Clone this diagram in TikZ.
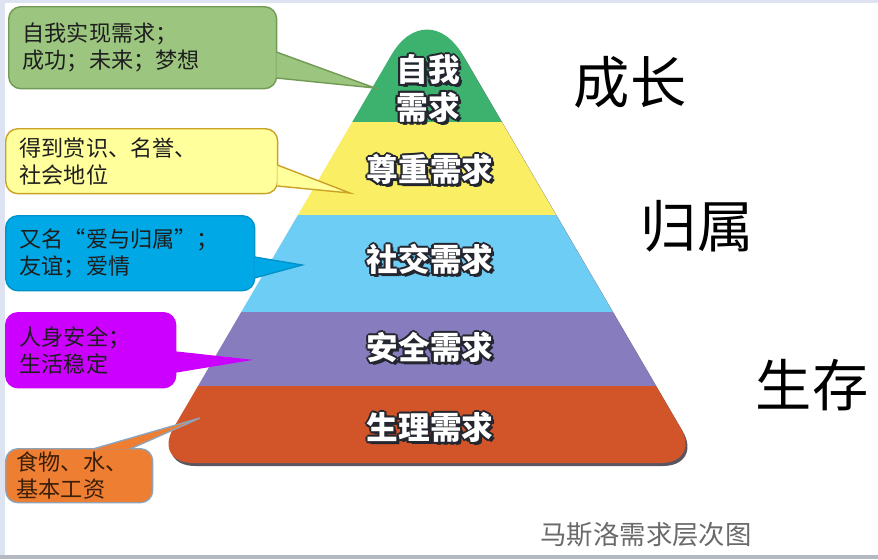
\documentclass[tikz,border=0pt]{standalone}
\usepackage{fontspec}
\setmainfont{Noto Sans CJK SC}
\newfontfamily\cjk{Noto Sans CJK SC}
\usetikzlibrary{calc}
\definecolor{needFrame}{HTML}{DDE3F1}
\definecolor{needEdge}{HTML}{B4B8C0}
\definecolor{needShadow}{HTML}{5A5560}
\definecolor{needRim}{HTML}{24262F}
\definecolor{needInk}{HTML}{1E1E1E}
\definecolor{needMuted}{HTML}{6A6A6A}
\definecolor{needGreen}{HTML}{3CB26E}
\definecolor{needYellow}{HTML}{FAEE64}
\definecolor{needBlue}{HTML}{6ECDF5}
\definecolor{needPurple}{HTML}{877DBE}
\definecolor{needRed}{HTML}{D2552A}
\definecolor{calGreenFill}{HTML}{9CC680}
\definecolor{calGreenLine}{HTML}{719A55}
\definecolor{calYellowFill}{HTML}{FFFF9C}
\definecolor{calYellowLine}{HTML}{C9A227}
\definecolor{calBlueFill}{HTML}{00A8E6}
\definecolor{calBlueLine}{HTML}{0092CA}
\definecolor{calPinkFill}{HTML}{CC00FF}
\definecolor{calOrangeFill}{HTML}{EE7E32}
\definecolor{calOrangeLine}{HTML}{8FA3B8}
\definecolor{calOrangeInk}{HTML}{3B1E08}
% outlined white lettering on the pyramid bands
\newcommand\rimcopy[3]{\rlap{\hspace*{#1}\raisebox{#2}{\color{needRim}#3}}}
\newcommand\rimtext[1]{%
  \rimcopy{1.8pt}{-1.8pt}{#1}%
  \rimcopy{-1.2pt}{0pt}{#1}\rimcopy{1.2pt}{0pt}{#1}%
  \rimcopy{0pt}{1.2pt}{#1}\rimcopy{0pt}{-1.2pt}{#1}%
  \rimcopy{-.85pt}{.85pt}{#1}\rimcopy{.85pt}{.85pt}{#1}%
  \rimcopy{-.85pt}{-.85pt}{#1}\rimcopy{.85pt}{-.85pt}{#1}%
  {\color{white}#1}}
\tikzset{
  need/callout/.style={line width=0.8pt, rounded corners=7pt, anchor=north west,
    align=left, text=needInk, inner xsep=0.28cm, inner ysep=0pt,
    font=\cjk\fontsize{12.6pt}{15.5pt}\selectfont},
  need/pointer/.style={line width=0.8pt, line join=miter},
  need/band/.style={align=center, inner sep=0pt,
    font=\cjk\bfseries\fontsize{18pt}{16pt}\selectfont},
  need/side/.style={inner sep=0pt, text=black,
    font=\cjk\fontsize{32pt}{34pt}\selectfont},
  need/caption/.style={inner sep=0pt, text=needMuted,
    font=\cjk\fontsize{15pt}{17pt}\selectfont},
}

\begin{document}
\begin{tikzpicture}[x=0.02cm, y=-0.02cm]
\useasboundingbox (0,0) rectangle (878,559);
\fill[needFrame] (0,0) rectangle (878,559);
\fill[white] (5,3) rectangle (878,555);
\fill[needEdge] (0,555) rectangle (878,559);

% pyramid
\fill[needShadow, shift={(2,3)}] (427,463) [rounded corners=23pt] -- (153,463)
  [rounded corners=40pt] -- (427,-6) [rounded corners=23pt] -- (701,463) -- cycle;
\begin{scope}
  \clip (427,463) [rounded corners=23pt] -- (153,463)
    [rounded corners=40pt] -- (427,-6) [rounded corners=23pt] -- (701,463) -- cycle;
  \fill[needGreen] (140,-10) rectangle (720,122);
  \fill[needYellow] (140,122) rectangle (720,215);
  \fill[needBlue] (140,215) rectangle (720,312);
  \fill[needPurple] (140,312) rectangle (720,386);
  \fill[needRed] (140,386) rectangle (720,470);
\end{scope}

\node[need/band] (selfLabel) at (428,89) {\rimtext{自我}\\\rimtext{需求}};
\node[need/band] (esteemLabel) at (430,170) {\rimtext{尊重需求}};
\node[need/band] (loveLabel) at (430,260) {\rimtext{社交需求}};
\node[need/band] (safetyLabel) at (430,348) {\rimtext{安全需求}};
\node[need/band] (bodyLabel) at (430,428) {\rimtext{生理需求}};

% callouts
\node[need/callout, fill=calGreenFill, draw=calGreenLine,
  minimum width=5.36cm, minimum height=1.64cm, text width=4.8cm] (selfBox) at (8,6)
  {自我实现需求；\\成功；未来；梦想};
\coordinate (selfTip) at (375,88);
\path[need/pointer, fill=calGreenFill, draw=calGreenLine]
  ($(selfBox.north east)+(-1,46)$) -- (selfTip) -- ($(selfBox.north east)+(-1,72)$);

\node[need/callout, fill=calYellowFill, draw=calYellowLine,
  minimum width=5.44cm, minimum height=1.3cm, text width=4.88cm] (esteemBox) at (5,128)
  {得到赏识、名誉、\\社会地位};
\coordinate (esteemTip) at (350,193);
\path[need/pointer, fill=calYellowFill, draw=calYellowLine]
  ($(esteemBox.north east)+(-1,37)$) -- (esteemTip) -- ($(esteemBox.north east)+(-1,58)$);

\node[need/callout, fill=calBlueFill, draw=calBlueLine,
  minimum width=4.98cm, minimum height=1.5cm, text width=4.42cm] (loveBox) at (5,215)
  {又名“爱与归属”；\\友谊；爱情};
\coordinate (loveTip) at (302,265);
\path[need/pointer, fill=calBlueFill, draw=calBlueLine]
  ($(loveBox.north east)+(-1,42)$) -- (loveTip) -- ($(loveBox.north east)+(-1,63)$);

\node[need/callout, fill=calPinkFill, draw=calPinkFill,
  minimum width=3.4cm, minimum height=1.5cm, text width=2.84cm] (safetyBox) at (5,312)
  {人身安全；\\生活稳定};
\coordinate (safetyTip) at (248,360);
\path[need/pointer, fill=calPinkFill, draw=calPinkFill]
  ($(safetyBox.north east)+(-1,40)$) -- (safetyTip) -- ($(safetyBox.north east)+(-1,60)$);

\node[need/callout, fill=calOrangeFill, draw=calOrangeLine, text=calOrangeInk,
  minimum width=2.94cm, minimum height=1.08cm, text width=2.5cm, inner xsep=0.22cm] (bodyBox) at (5,448)
  {食物、水、\\基本工资};
\coordinate (bodyTip) at (200,418);
\path[need/pointer, fill=calOrangeFill, draw=calOrangeLine]
  ($(bodyBox.north west)+(88,1)$) -- (bodyTip) -- ($(bodyBox.north west)+(125,1)$);

% stages
\node[need/side] (growthLabel) at (630,82) {成长};
\node[need/side] (belongLabel) at (697,226) {归属};
\node[need/side] (surviveLabel) at (812,385) {生存};
\node[need/caption] (chartTitle) at (646,535) {马斯洛需求层次图};
\end{tikzpicture}
\end{document}
